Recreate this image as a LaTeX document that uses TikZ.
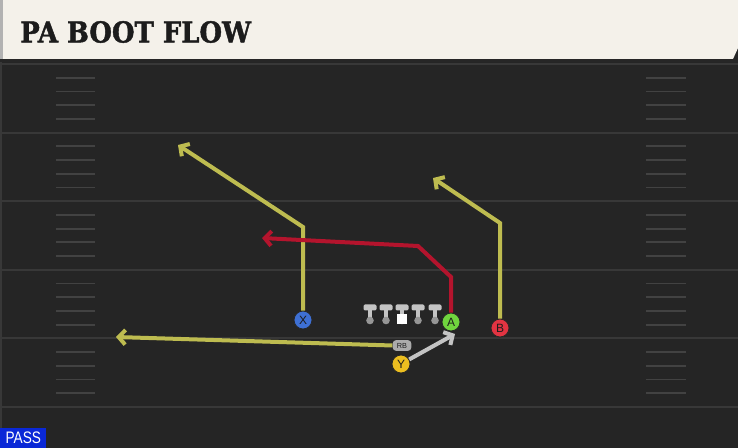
\documentclass[tikz,border=0pt]{standalone}
\usepackage{fontspec}
\usepackage{graphicx}
\usetikzlibrary{arrows.meta}
\usetikzlibrary{positioning}
\newfontfamily\titlefont[BoldFeatures={FakeBold=1.6}]{DejaVu Serif}
\newfontfamily\labelfont{Liberation Sans}

\definecolor{fieldbg}{RGB}{37,37,37}
\definecolor{yardgray}{RGB}{56,56,56}
\definecolor{hashgray}{RGB}{66,66,66}
\definecolor{headercream}{RGB}{244,241,234}
\definecolor{titleblack}{RGB}{28,28,28}
\definecolor{routeyellow}{RGB}{190,188,80}
\definecolor{routered}{RGB}{180,20,45}
\definecolor{routegray}{RGB}{196,196,196}
\definecolor{xblue}{RGB}{62,112,212}
\definecolor{agreen}{RGB}{112,212,62}
\definecolor{bred}{RGB}{226,52,66}
\definecolor{yyellow}{RGB}{236,190,32}
\definecolor{passblue}{RGB}{10,40,215}
\definecolor{linegray}{RGB}{196,196,196}
\definecolor{basegray}{RGB}{150,150,150}

\begin{document}
\begin{tikzpicture}[x=0.75pt,y=-0.75pt,
    yard/.style={draw=yardgray, line width=1.5pt},
    hashmark/.style={draw=hashgray, line width=1.3pt},
    route/.style={line width=3pt, line join=miter, -{Straight Barb[length=5pt,width=11pt]}},
    player/.style={circle, draw=black!85, line width=0.6pt, minimum size=13.5pt, inner sep=0pt,
      font=\labelfont\small, text=titleblack}]
    \useasboundingbox (0,0) rectangle (738,448);
    \fill[fieldbg] (0,0) rectangle (738,448);

    % field lines
    \foreach \ly in {64,132.6,201.2,269.8,338.4,407}
      \draw[yard] (0,\ly) -- (738,\ly);
    \foreach \ly in {64,132.6,201.2,269.8,338.4}
      \foreach \k in {1,...,4} {
        \draw[hashmark] (56,{\ly+\k*13.72}) -- (95,{\ly+\k*13.72});
        \draw[hashmark] (646,{\ly+\k*13.72}) -- (686,{\ly+\k*13.72});
      }
    \draw[yardgray, line width=1pt] (1,62) -- (1,448);

    % header
    \fill[black!85] (0,56) rectangle (738,62);
    \fill[headercream] (0,0) -- (738,0) -- (738,48) -- (733,59) -- (0,59) -- cycle;
    \fill[gray!60] (0,0) rectangle (2.5,59);
    \node[anchor=west, inner sep=0pt, font=\titlefont\bfseries\fontsize{21.6}{24}\selectfont, text=titleblack]
      (title) at (20,32) {\scalebox{0.9}[1]{PA BOOT FLOW}};

    % offensive line
    \foreach \lx in {370,386,402,418,435} {
      \fill[linegray, rounded corners=1pt] (\lx-6.5,304.5) rectangle (\lx+6.5,310.5);
      \fill[linegray] (\lx-2.3,310) rectangle (\lx+2.3,319);
      \fill[basegray] (\lx,320.5) circle (3.8);
    }
    \fill[white] (397,314) rectangle (407,324);

    % players
    \node[player, fill=xblue] (X) at (303,320) {X};
    \node[player, fill=agreen] (A) at (451,322) {A};
    \node[player, fill=bred] (B) at (500,328) {B};
    \node[player, fill=yyellow] (Y) at (401,364) {Y};
    \node[fill=basegray!80!white, rounded corners=2.5pt, minimum width=14pt, minimum height=8pt, inner sep=0pt,
      font=\labelfont\fontsize{5.5}{5.5}\selectfont, text=titleblack] (RB) at (402,345.5) {RB};

    % route points
    \coordinate (xbreak) at (303,227);
    \coordinate (xend) at (178,145);
    \coordinate (bbreak) at (500,223);
    \coordinate (bend) at (433,178);
    \coordinate (abreak) at (451,277);
    \coordinate (aturn) at (418,246);
    \coordinate (aend) at (262,238);
    \coordinate (rbend) at (116,337);
    \coordinate (yend) at (455,334);

    % routes
    \draw[route, routeyellow] (X) -- (xbreak) -- (xend);
    \draw[route, routeyellow] (B) -- (bbreak) -- (bend);
    \draw[route, routered] (A) -- (abreak) -- (aturn) -- (aend);
    \draw[route, routeyellow] (RB.west) -- (rbend);
    \draw[route, routegray] (Y) -- (yend);

    % play type
    \node[fill=passblue, text=white, anchor=south west, minimum width=34.5pt, minimum height=15pt, inner sep=0pt,
      font=\labelfont\fontsize{12.5}{13}\selectfont] (playtype) at (0,448) {\scalebox{0.82}[1]{PASS}};
\end{tikzpicture}
\end{document}
